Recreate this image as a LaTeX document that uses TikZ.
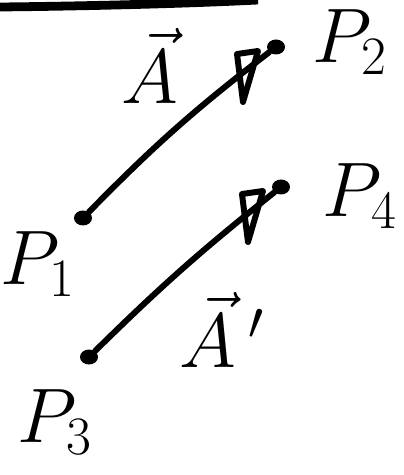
\RequirePackage{fix-cm}
\documentclass[tikz,border=0pt]{standalone}
\usepackage{amsmath}
\tikzset{
  pt/.style={ellipse, fill=black, inner sep=0pt, minimum width=0.36cm, minimum height=0.3cm},
  lbl/.style={font=\fontsize{44}{52}\selectfont},
  stroke/.style={line width=3.4pt, line cap=round, line join=round},
  tiphead/.pic={\draw[stroke] (-39,7) -- (-18,4) -- (-33,55) -- cycle;}
}
\usetikzlibrary{shapes.geometric}
\begin{document}
\begin{tikzpicture}[x=0.02cm, y=-0.02cm]
\useasboundingbox (0,0) rectangle (404,475);

% edge of the stroke above
\draw[line width=5pt] (0,7) .. controls (100,6) and (200,3) .. (258,0);

% the four points
\node[pt] (p1) at (83,218) {};
\node[pt] (p2) at (276,47) {};
\node[pt] (p3) at (89,357) {};
\node[pt] (p4) at (281,187) {};

% the two vectors
\draw[stroke] (p1) to[bend left=4] (p2);
\draw[stroke] (p3) to[bend left=3] (p4);
\pic at (p2) {tiphead};
\pic at (p4) {tiphead};

% labels
\node[lbl] (veca) at (150,66) {$\vec{A}$};
\node[lbl] (lp2) at (350,42) {$P_2$};
\node[lbl] (lp1) at (38,264) {$P_1$};
\node[lbl] (lp4) at (360,196) {$P_4$};
\node[lbl] (lp3) at (55,422) {$P_3$};
\node[lbl] (vecaa) at (222,330) {$\vec{A}\,'$};
\end{tikzpicture}
\end{document}
